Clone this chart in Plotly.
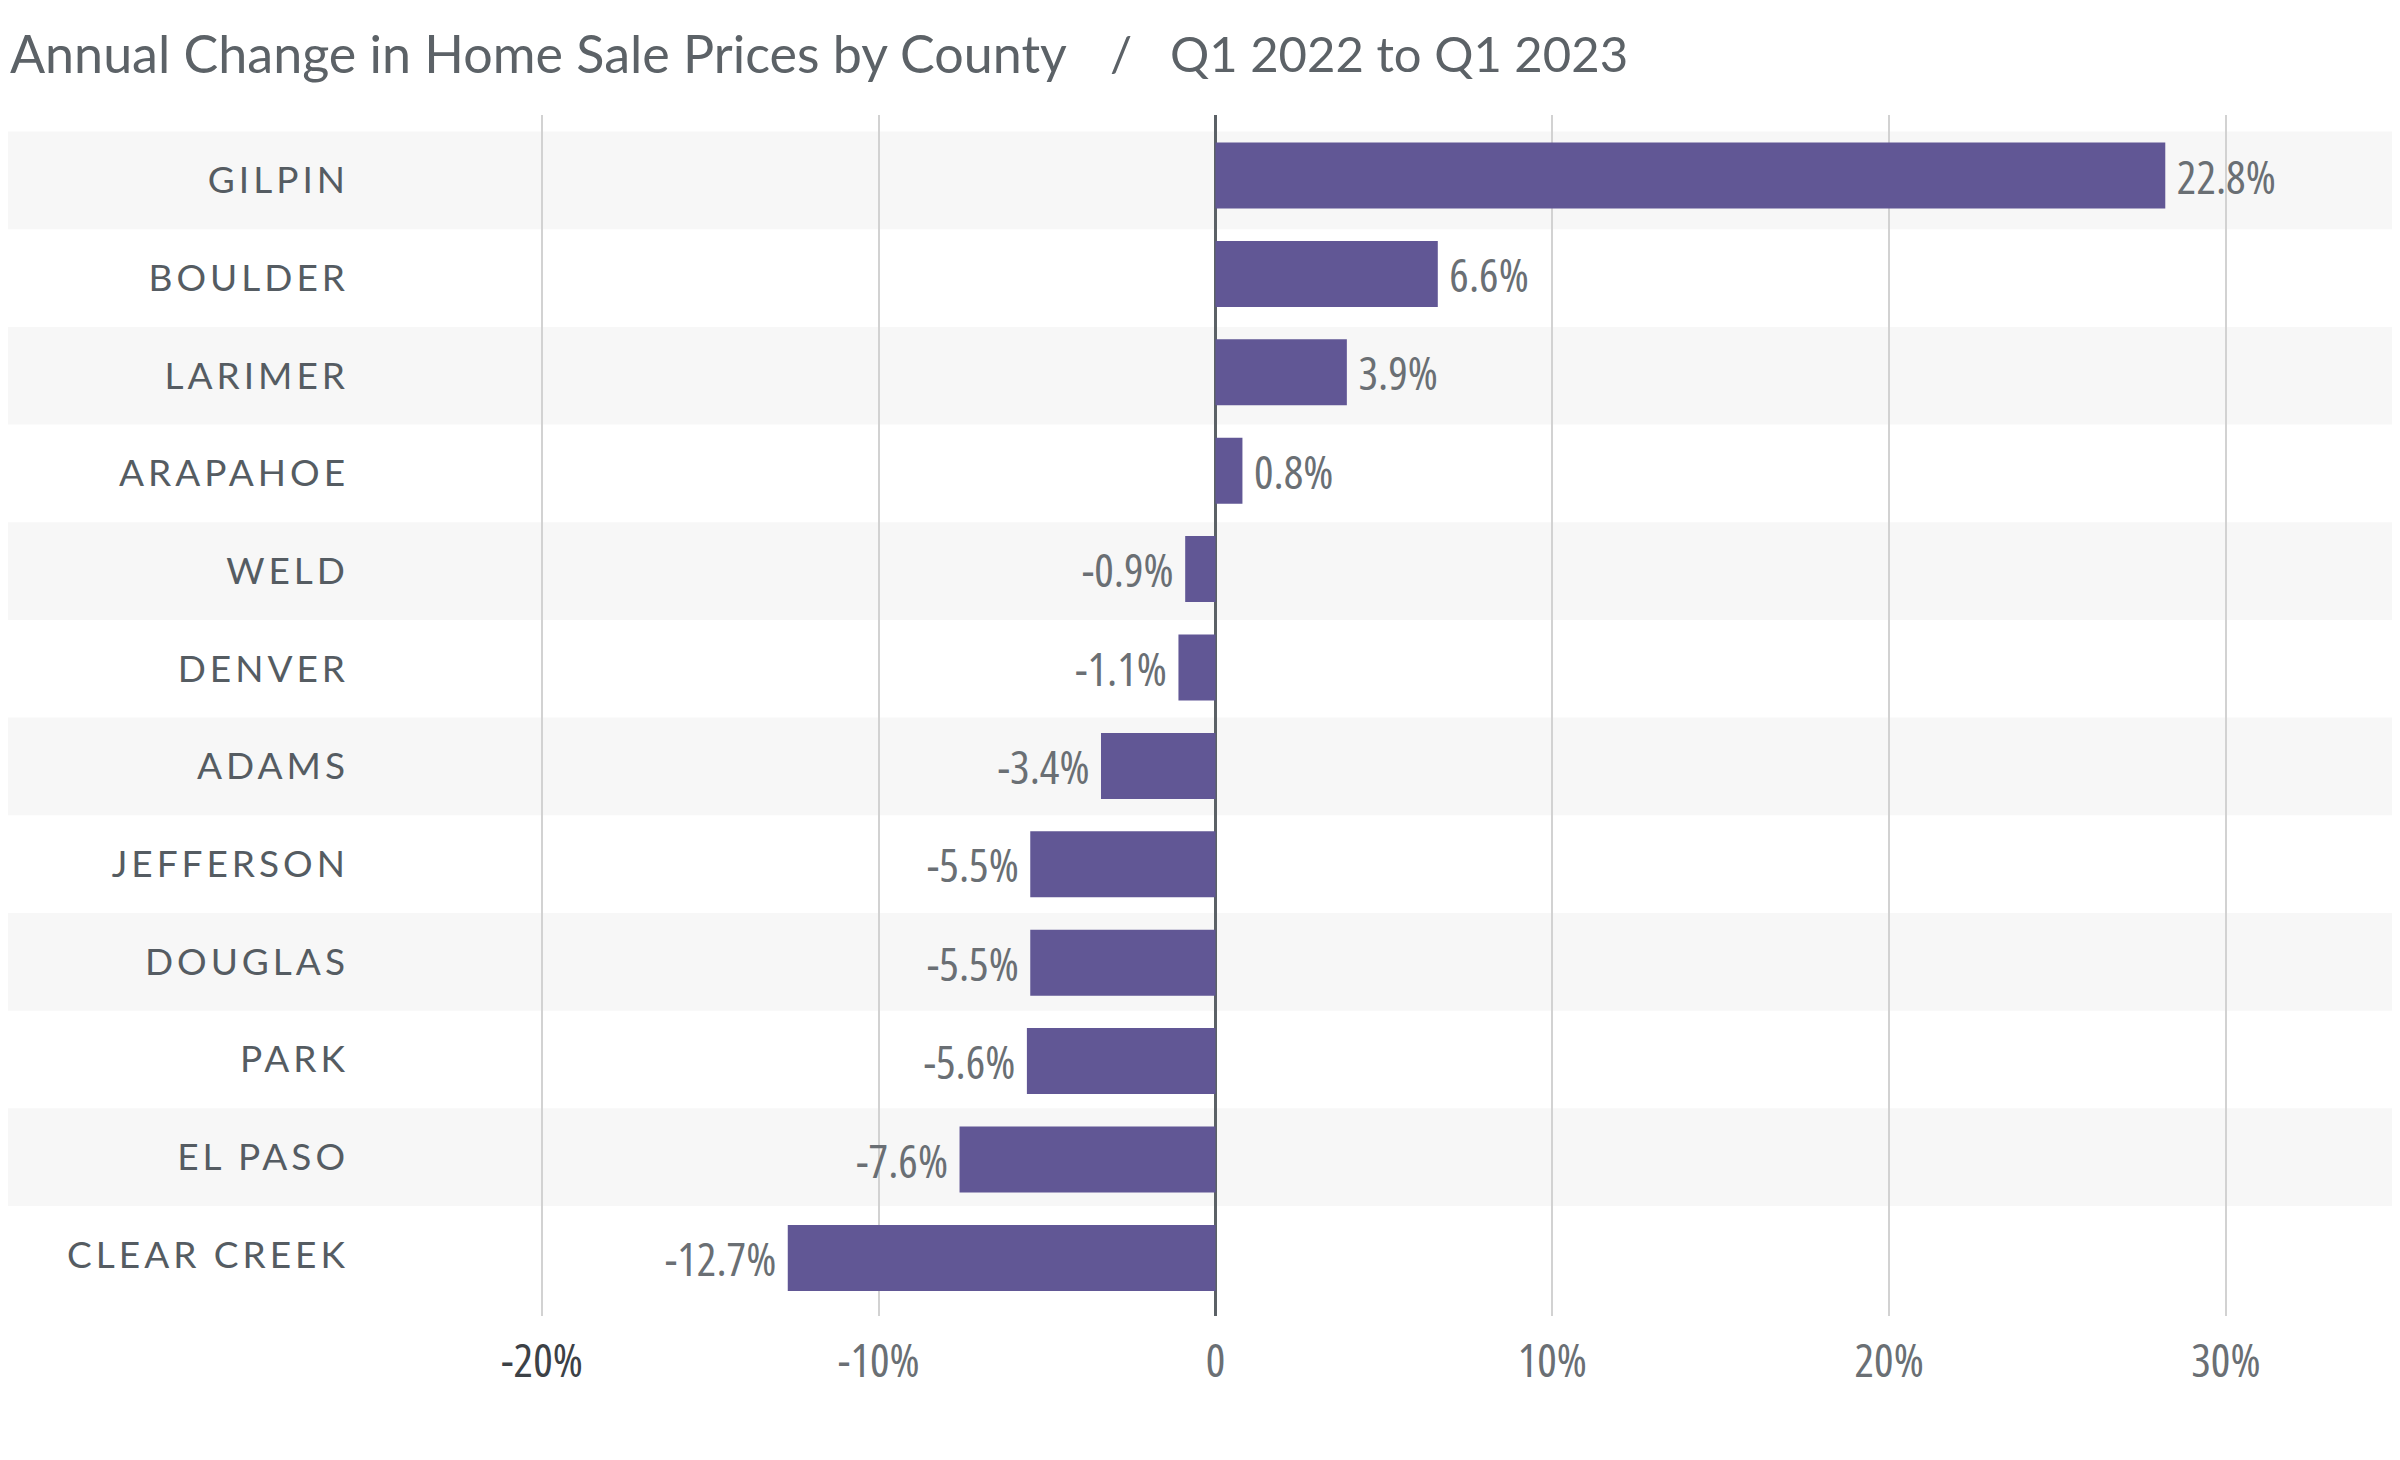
import plotly.graph_objects as go

counties = ["GILPIN", "BOULDER", "LARIMER", "ARAPAHOE", "WELD", "DENVER",
            "ADAMS", "JEFFERSON", "DOUGLAS", "PARK", "EL PASO", "CLEAR CREEK"]
bar_values = [28.2, 6.6, 3.9, 0.8, -0.9, -1.1, -3.4, -5.5, -5.5, -5.6, -7.6, -12.7]
value_labels = ["22.8%", "6.6%", "3.9%", "0.8%", "-0.9%", "-1.1%", "-3.4%",
                "-5.5%", "-5.5%", "-5.6%", "-7.6%", "-12.7%"]
tick_vals = [-20, -10, 0, 10, 20, 30]
tick_text = ["-20%", "-10%", "0", "10%", "20%", "30%"]

title_main = "Annual Change in Home Sale Prices by County"
title_sep = "/"
title_sub = "Q1 2022 to Q1 2023"

OFF = 8  # page body margin
W, H = 2400 - OFF, 1460 - OFF
PLOT_TOP, PLOT_BOT = 115, 1316          # page pixels
ML, MR, MT, MB = 380 - OFF, 0, PLOT_TOP - OFF, 1460 - PLOT_BOT
PW = W - ML - MR
PH = H - MT - MB

def px_x(p):  # page pixel -> paper
    return (p - OFF - ML) / PW

def px_y(p):
    return (PLOT_BOT - p) / PH

# row bands (labels) and bar rows use slightly different pitches
BAND_TOP, BAND_H = 131.6, 97.67
BAR_C0, BAR_H = 175.5, 98.4

NB = "\u00a0"
CS = "<span style='font-stretch:80%'>"
texts = []
for v, t in zip(bar_values, value_labels):
    texts.append(CS + (NB + t if v >= 0 else t + NB) + "</span>")

BAR = "#615795"
GREY_TXT = "#6a6f74"
LBL = "#555c62"
COND = "Open Sans, sans-serif"

fig = go.Figure()
fig.add_trace(go.Bar(
    x=bar_values, y=counties, orientation="h",
    marker=dict(color=BAR, line=dict(width=0)),
    width=66 / BAR_H,
    text=texts, textposition="outside", cliponaxis=False,
    textfont=dict(family=COND, size=46, color=GREY_TXT),
    hoverinfo="skip",
))
# invisible carrier for the category label axis
fig.add_trace(go.Scatter(
    x=[0] * len(counties), y=counties, yaxis="y2", mode="markers",
    marker=dict(opacity=0, size=1), hoverinfo="skip", showlegend=False,
))

shapes = []
for i, c in enumerate(counties):
    if i % 2 == 0:
        shapes.append(dict(type="rect", xref="paper", yref="y2",
                           x0=px_x(5), x1=1, y0=i - 0.5, y1=i + 0.5,
                           fillcolor="#f7f7f7", line=dict(width=0), layer="below"))

tick_text_styled = [
    ("<span style='font-stretch:80%;color:#3c4146'>" if t == "-20%" else CS) + t + "</span>"
    for t in tick_text
]
cat_text = ["<span style='letter-spacing:4px'>" + c + "</span>" for c in counties]

n = len(counties)
bar_range = [n - 1 + (PLOT_BOT - (BAR_C0 + (n - 1) * BAR_H)) / BAR_H,
             -(BAR_C0 - PLOT_TOP) / BAR_H]
band_range = [n - 0.5 + (PLOT_BOT - (BAND_TOP + n * BAND_H)) / BAND_H,
              -0.5 - (BAND_TOP - PLOT_TOP) / BAND_H]

fig.update_layout(
    width=W, height=H,
    margin=dict(l=ML, r=MR, t=MT, b=MB, pad=0),
    paper_bgcolor="white", plot_bgcolor="rgba(0,0,0,0)",
    showlegend=False,
    shapes=shapes,
    xaxis=dict(
        range=[(380 - 1215.5) / 33.68, (2400 - 1215.5) / 33.68],
        tickvals=tick_vals, ticktext=tick_text_styled,
        showgrid=True, gridcolor="#d2d2d2", gridwidth=2,
        zeroline=True, zerolinecolor="#5b6166", zerolinewidth=3,
        showline=False, ticks="", ticklabelstandoff=14,
        tickfont=dict(family=COND, size=46, color=GREY_TXT),
        fixedrange=True,
    ),
    yaxis=dict(
        type="category",
        categoryorder="array", categoryarray=counties,
        range=bar_range,
        showgrid=False, zeroline=False, showline=False, ticks="",
        showticklabels=False,
        fixedrange=True,
    ),
    yaxis2=dict(
        type="category", overlaying="y", side="left", anchor="x",
        categoryorder="array", categoryarray=counties,
        tickvals=counties, ticktext=cat_text,
        range=band_range,
        showgrid=False, zeroline=False, showline=False, ticks="",
        ticklabelstandoff=30,
        tickfont=dict(family="Lato", size=37, color=LBL),
        fixedrange=True,
    ),
    annotations=[
        dict(text=title_main, xref="paper", yref="paper", x=px_x(8), y=px_y(53),
             xanchor="left", yanchor="middle", showarrow=False,
             font=dict(family="Lato", size=52, color="#5c6267")),
        dict(text=title_sep, xref="paper", yref="paper", x=px_x(1121), y=px_y(53),
             xanchor="center", yanchor="middle", showarrow=False,
             font=dict(family="Lato", size=49, color="#5c6267")),
        dict(text=title_sub, xref="paper", yref="paper", x=px_x(1168), y=px_y(53),
             xanchor="left", yanchor="middle", showarrow=False,
             font=dict(family="Lato", size=49, color="#5c6267")),
    ],
)

fig.write_html("out.html")
